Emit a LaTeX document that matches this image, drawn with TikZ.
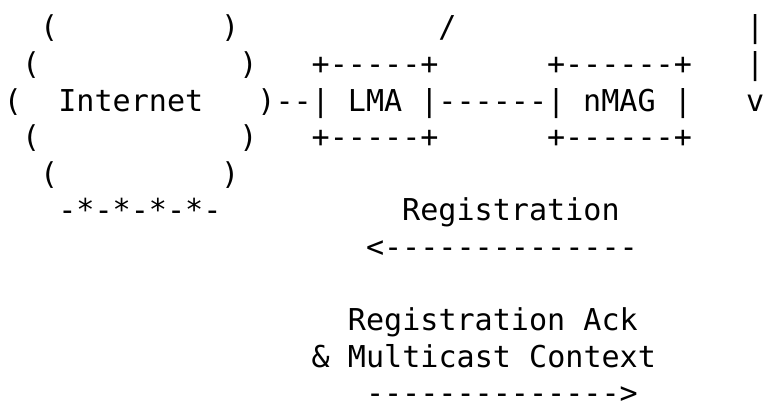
\documentclass[tikz,border=0pt]{standalone}
\usepackage{fontspec}
\setmonofont{DejaVu Sans Mono}

\begin{document}
\begin{tikzpicture}[x=18.1pt, y=-36.6pt,
        ascii/.style={anchor=base west, inner sep=0pt, outer sep=0pt,
            font=\ttfamily\fontsize{30.1pt}{37pt}\selectfont}]
        \useasboundingbox (-4pt,38pt) rectangle (759pt,-373pt);

        % Internet cloud
        \foreach \r/\cl/\cr in {0/2/12, 1/1/13, 2/0/14, 3/1/13, 4/2/12} {
            \node[ascii] (cl\r) at (\cl,\r) {(};
            \node[ascii] (cr\r) at (\cr,\r) {)};
        }
        \node[ascii] (inet) at (3,2) {Internet};
        \node[ascii] (cloudbase) at (3,5) {-*-*-*-*-};

        % LMA box and link
        \node[ascii] (inetlink) at (15,2) {--};
        \node[ascii] (lmatop) at (17,1) {+-----+};
        \node[ascii] (lma) at (17,2) {| LMA |};
        \node[ascii] (lmabot) at (17,3) {+-----+};
        \node[ascii] (slash) at (24,0) {/};

        % nMAG box and link
        \node[ascii] (maglink) at (24,2) {------};
        \node[ascii] (nmagtop) at (30,1) {+------+};
        \node[ascii] (nmag) at (30,2) {| nMAG |};
        \node[ascii] (nmagbot) at (30,3) {+------+};

        % Mobile node moving down
        \node[ascii] (mn0) at (41,0) {|};
        \node[ascii] (mn1) at (41,1) {|};
        \node[ascii] (mnhead) at (41,2) {v};

        % Messages
        \node[ascii] (reg) at (22,5) {Registration};
        \node[ascii] (regarrow) at (20,6) {<--------------};
        \node[ascii] (ack) at (19,8) {Registration Ack};
        \node[ascii] (ackctx) at (17,9) {\& Multicast Context};
        \node[ascii] (ackarrow) at (20,10) {-------------->};

    \end{tikzpicture}
\end{document}
